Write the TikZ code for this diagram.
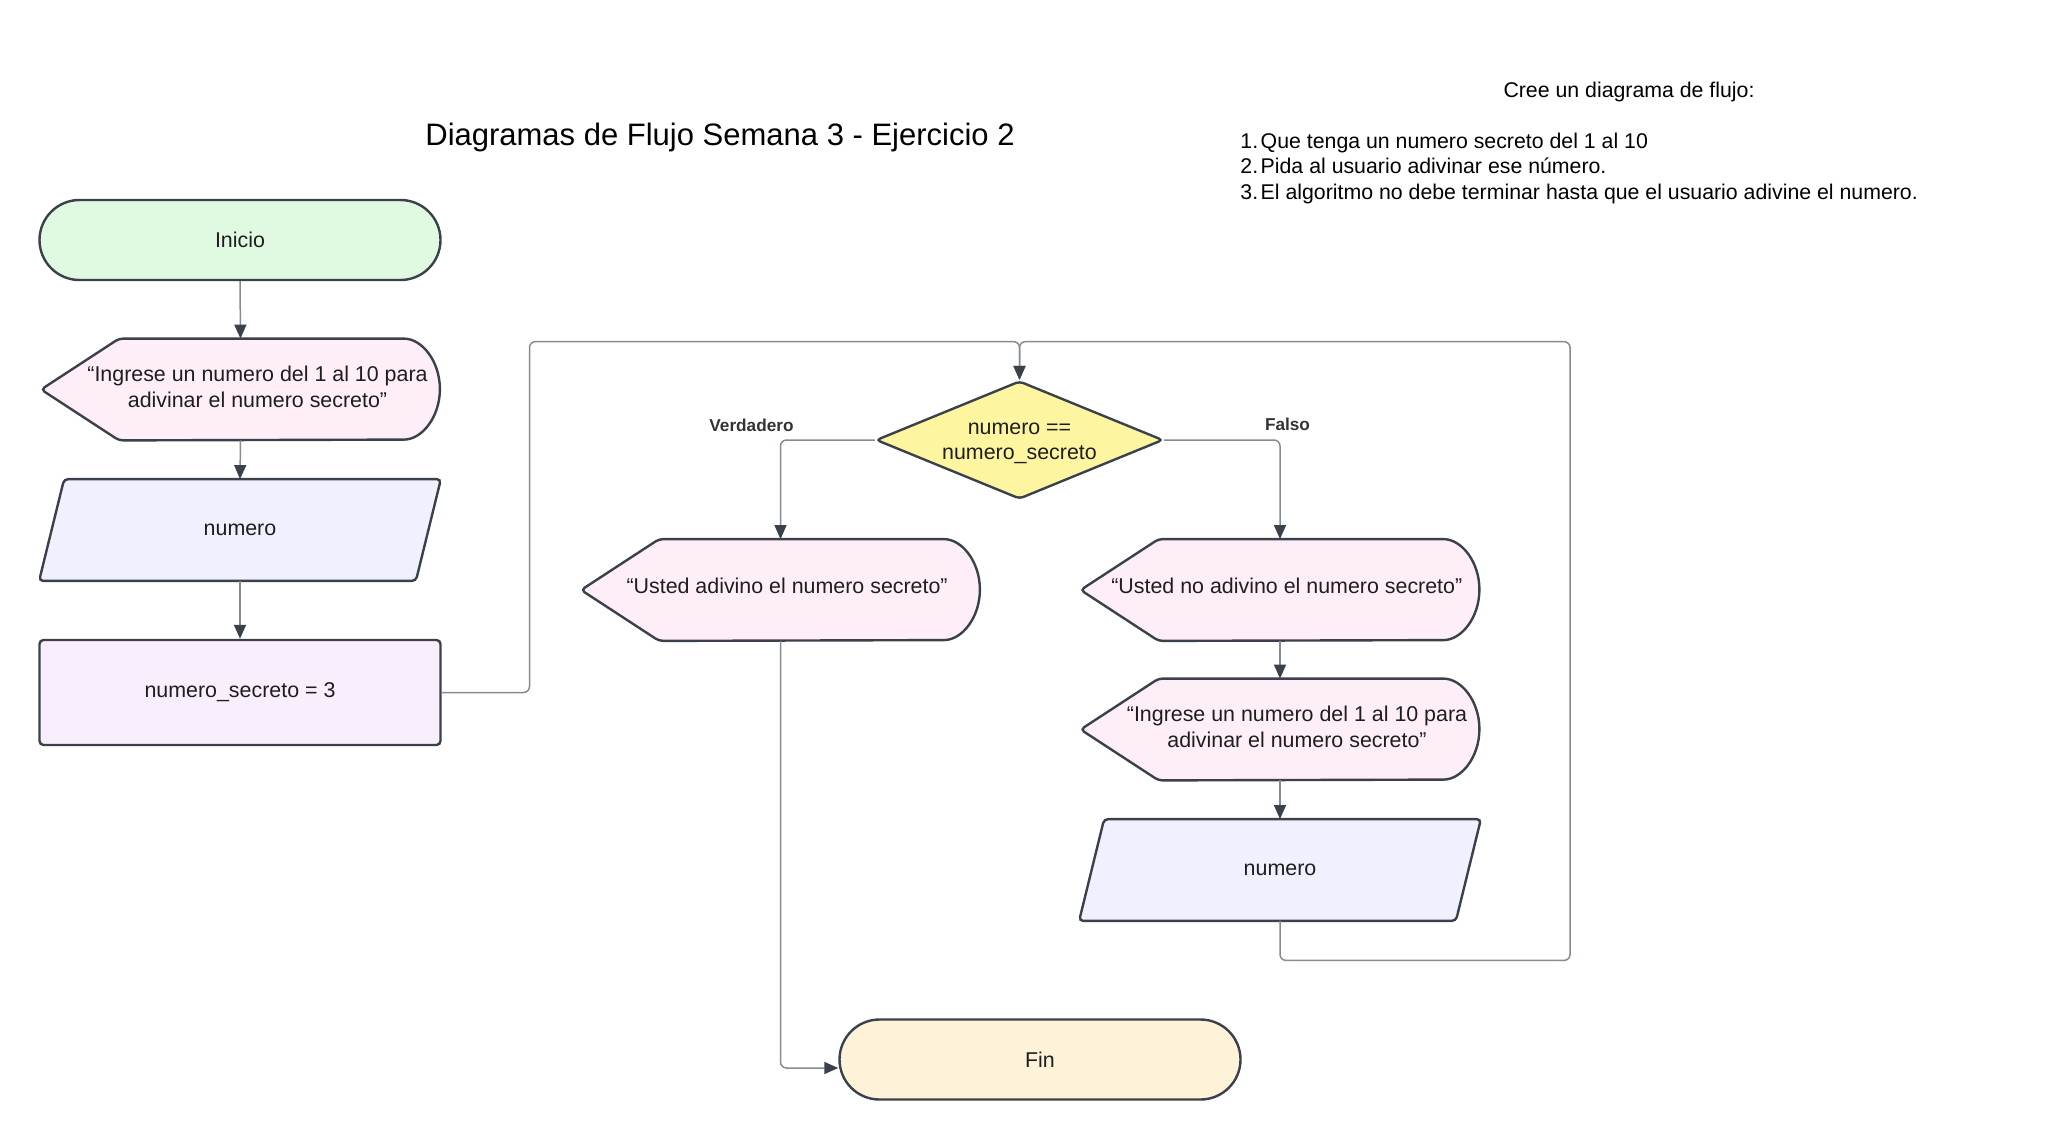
\documentclass[tikz,border=0pt]{standalone}
\usepackage{fontspec}
\setmainfont{Liberation Sans}
\usetikzlibrary{shapes.geometric,arrows.meta,backgrounds}

\definecolor{bordeoscuro}{HTML}{3A414A}
\definecolor{lineagris}{HTML}{868C93}
\definecolor{textooscuro}{HTML}{1E1E1E}
\definecolor{rotulogris}{HTML}{333333}
\definecolor{verdeinicio}{HTML}{E0F9E1}
\definecolor{rosapantalla}{HTML}{FEEEF8}
\definecolor{azulentrada}{HTML}{F0F0FE}
\definecolor{lilaproceso}{HTML}{F9EEFB}
\definecolor{amarillodecision}{HTML}{FEF5A0}
\definecolor{cremafin}{HTML}{FEF2D9}

\tikzset{
  base/.style={inner sep=0pt, font=\fontsize{10.7}{12.7}\selectfont, text=textooscuro, align=center},
  terminal/.style={base, draw=bordeoscuro, line width=1.2pt, rounded corners=20pt,
    minimum width=200.5pt, minimum height=40pt},
  proceso/.style={base, draw=bordeoscuro, fill=lilaproceso, line width=1.2pt, rounded corners=2pt,
    minimum width=200.5pt, minimum height=52.5pt},
  decision/.style={base, diamond, draw=bordeoscuro, fill=amarillodecision, line width=1.2pt,
    aspect=2.43, minimum width=143.5pt, minimum height=59pt, rounded corners=2pt},
  pantalla/.style={base, minimum width=199pt, minimum height=50.5pt},
  entrada/.style={base, minimum width=200.5pt, minimum height=50.5pt},
  pantallatexto/.style={base, xshift=#1},
  pantallatexto/.default=8.5pt,
  forma/.style={draw=bordeoscuro, line width=1.2pt, rounded corners=2pt},
  flecha/.style={draw=lineagris, line width=0.75pt, rounded corners=3pt,
    -{Triangle[length=7pt,width=6pt,color=bordeoscuro]}},
  rotulo/.style={font=\bfseries\fontsize{8.6}{10}\selectfont, text=rotulogris},
  titulo/.style={font=\fontsize{15.5}{18}\selectfont, text=black},
  enunciado/.style={inner sep=0pt, font=\fontsize{10.65}{12.75}\selectfont, text=black},
}

% pantalla: punta a la izquierda, arco a la derecha
\newcommand{\formapantalla}[2]{%
  \path[forma, fill=#2] (#1.west) -- ([xshift=39pt]#1.north west) -- ([xshift=-20pt]#1.north east)
    arc[start angle=90, end angle=-90, x radius=20pt, y radius=25.25pt]
    -- ([xshift=39pt]#1.south west) -- cycle;}
% entrada: paralelogramo
\newcommand{\formaentrada}[2]{%
  \path[forma, fill=#2] ([xshift=12.5pt]#1.north west) -- (#1.north east)
    -- ([xshift=-12.5pt]#1.south east) -- (#1.south west) -- cycle;}

\begin{document}
\begin{tikzpicture}[x=0.5pt, y=-0.5pt]
\useasboundingbox (0,0) rectangle (2060,1140);
\begin{scope}[on background layer]
  \fill[white] (0,0) rectangle (2060,1140);
\end{scope}

% textos
\node[titulo] (titulo) at (720,137.6) {Diagramas de Flujo Semana 3 - Ejercicio 2};
\node[enunciado] (consigna) at (1629,91.6) {Cree un diagrama de flujo:};
\node[enunciado, anchor=west, align=left] (pasos) at (1240,168)
  {1.\hspace{0.12em}Que tenga un numero secreto del 1 al 10\\
   2.\hspace{0.12em}Pida al usuario adivinar ese número.\\
   3.\hspace{0.12em}El algoritmo no debe terminar hasta que el usuario adivine el numero.};

% columna izquierda
\node[terminal, fill=verdeinicio] (inicio) at (240,240) {Inicio};
\node[pantalla, label={[pantallatexto, yshift=1.25pt]center:{“Ingrese un numero del 1 al 10 para\\adivinar el numero secreto”}}] (msj1) at (240.5,389.5) {};
\node[entrada] (leer1) at (240,530) {numero};
\node[proceso] (asig) at (240,692.5) {numero\_secreto = 3};

% decision y ramas
\node[decision] (cond) at (1019.5,440) {\rule{0pt}{9pt}numero ==\\numero\_secreto};
\node[rotulo] (verdadero) at (751.5,425.7) {Verdadero};
\node[rotulo] (falso) at (1287.5,424) {Falso};
\node[pantalla, label={[pantallatexto=3.3pt, yshift=2pt]center:{“Usted adivino el numero secreto”}}] (msjsi) at (780.5,590) {};
\node[pantalla, label={[pantallatexto=3.4pt, yshift=2pt]center:{“Usted no adivino el numero secreto”}}] (msjno) at (1280,590) {};
\node[pantalla, label={[pantallatexto, yshift=1.25pt]center:{“Ingrese un numero del 1 al 10 para\\adivinar el numero secreto”}}] (msj2) at (1280,729.5) {};
\node[entrada] (leer2) at (1280,870) {numero};
\node[terminal, fill=cremafin] (fin) at (1040,1059.5) {Fin};

% puntos del bucle
\coordinate (vueltaizq) at (529.5,341.6);
\coordinate (union) at (1019.5,341.6);
\coordinate (vueltader) at (1570,341.6);
\coordinate (vueltaabajo) at (1570,960.4);

% conectores
\draw[flecha] (inicio.south) -- (msj1.north);
\draw[flecha] (msj1.south) -- (leer1.north);
\draw[flecha] (leer1.south) -- (asig.north);
\draw[flecha] (asig.east) -| (vueltaizq) -- (union) -- (cond.north);
\draw[flecha] (cond.west) -| (msjsi.north);
\draw[flecha] (cond.east) -| (msjno.north);
\draw[flecha] (msjno.south) -- (msj2.north);
\draw[flecha] (msj2.south) -- (leer2.north);
\draw[flecha] (leer2.south) |- (vueltaabajo) -- (vueltader) -- (union) -- (cond.north);
\draw[flecha] (msjsi.south) |- ([yshift=-4.25pt]fin.west);

\begin{scope}[on background layer]
  \formapantalla{msj1}{rosapantalla}
  \formapantalla{msjsi}{rosapantalla}
  \formapantalla{msjno}{rosapantalla}
  \formapantalla{msj2}{rosapantalla}
  \formaentrada{leer1}{azulentrada}
  \formaentrada{leer2}{azulentrada}
\end{scope}
\end{tikzpicture}
\end{document}
